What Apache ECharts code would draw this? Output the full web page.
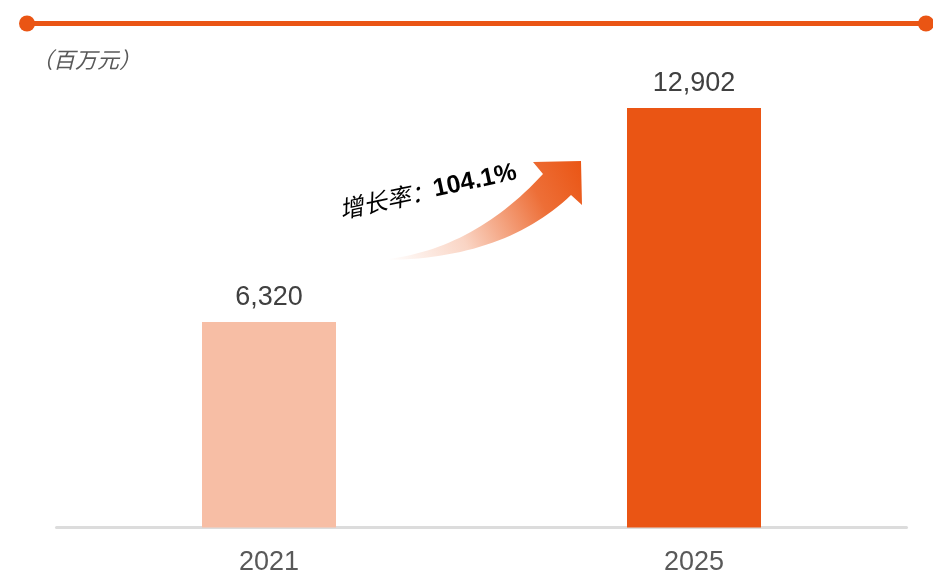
<!DOCTYPE html>
<html>
<head>
<meta charset="utf-8">
<script src="https://cdn.jsdelivr.net/npm/echarts@6/dist/echarts.min.js"></script>
<style>html,body{margin:0;padding:0;background:#fff;}#c{width:933px;height:572px;}</style>
</head>
<body>
<div id="c"></div>
<script>
const categories = ['2021', '2025'];
const values = [6320, 12902];
const barColors = ['#F7BEA5', '#EA5514'];
const unitText = '（百万元）';
const growthLabel = '增长率：';
const growthValue = '104.1%';

const chart = echarts.init(document.getElementById('c'), null, {renderer: 'canvas'});
const fmt = v => v.toLocaleString('en-US');

// arrow outline (decoration) sampled from quadratic curves
function quad(p0, c, p1, n) {
  const pts = [];
  for (let i = 0; i <= n; i++) {
    const t = i / n, u = 1 - t;
    pts.push([u * u * p0[0] + 2 * u * t * c[0] + t * t * p1[0], u * u * p0[1] + 2 * u * t * c[1] + t * t * p1[1]]);
  }
  return pts;
}
const arrowPts = [].concat(
  quad([388, 259], [475, 248], [543, 174], 30),
  [[533, 162], [581, 161], [582, 205]],
  quad([571, 195], [505, 258], [388, 260], 30)
);

chart.setOption({
  animation: false,
  backgroundColor: '#fff',
  grid: {left: 56.5, right: 26.5, top: 72.3, bottom: 44.5, containLabel: false, outerBoundsMode: 'none'},
  xAxis: {
    type: 'category',
    data: categories,
    axisLine: {lineStyle: {color: '#DCDCDC', width: 3}},
    axisTick: {show: false},
    axisLabel: {color: '#595959', fontSize: 27, fontFamily: 'Liberation Sans, Arial', margin: 22}
  },
  yAxis: {
    type: 'value', min: 0, max: 14000,
    show: false, splitLine: {show: false}
  },
  series: [{
    type: 'bar',
    barWidth: 134,
    data: values.map((v, i) => ({value: v, itemStyle: {color: barColors[i]}})),
    label: {
      show: true, position: 'top', distance: 11,
      color: '#404040', fontSize: 27, fontFamily: 'Liberation Sans, Arial',
      formatter: p => fmt(p.value)
    }
  }],
  graphic: [
    {type: 'line', shape: {x1: 27, y1: 23.5, x2: 926, y2: 23.5}, style: {stroke: '#EA5514', lineWidth: 5}},
    {type: 'circle', shape: {cx: 27, cy: 23.5, r: 8}, style: {fill: '#EA5514'}},
    {type: 'circle', shape: {cx: 926, cy: 23.5, r: 8}, style: {fill: '#EA5514'}},
    {type: 'text', x: 31, y: 49, style: {text: unitText, fontSize: 22, fontStyle: 'italic', fill: '#595959', fontFamily: 'Noto Sans CJK SC'}},
    {
      type: 'polygon',
      shape: {points: arrowPts},
      style: {
        fill: {
          type: 'linear', x: 0, y: 1, x2: 1, y2: 0,
          colorStops: [
            {offset: 0, color: 'rgba(234,85,20,0)'},
            {offset: 0.35, color: 'rgba(234,85,20,0.25)'},
            {offset: 0.75, color: 'rgba(234,85,20,0.85)'},
            {offset: 1, color: 'rgba(234,85,20,1)'}
          ]
        }
      }
    },
    {
      type: 'text', x: 428, y: 191, rotation: 0.21,
      style: {
        text: '{a|' + growthLabel + '}{b|' + growthValue + '}',
        align: 'center', verticalAlign: 'middle',
        rich: {
          a: {fontSize: 24, fontStyle: 'italic', fill: '#000', fontFamily: 'Noto Sans CJK SC'},
          b: {fontSize: 25, fontWeight: 'bold', fill: '#000', fontFamily: 'Liberation Sans, Arial'}
        }
      }
    }
  ]
});
</script>
</body>
</html>
